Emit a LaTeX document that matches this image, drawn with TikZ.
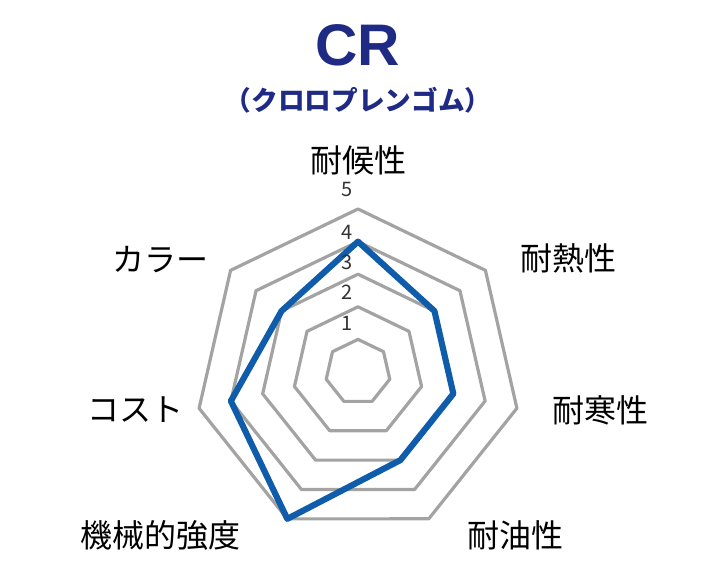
\documentclass[tikz,border=0pt]{standalone}
\usepackage{fontspec}
\setmainfont{Noto Sans CJK JP}
\newfontfamily\titlefont{Liberation Sans}
\usetikzlibrary{calc}
\definecolor{titleblue}{HTML}{1E2A84}
\definecolor{lineblue}{HTML}{0F5DAA}
\definecolor{ringgray}{HTML}{A3A3A3}
\tikzset{
  ring/.style={draw=ringgray, line width=2.4pt, line join=round},
  dataline/.style={draw=lineblue, line width=4.6pt, line join=round},
  axislabel/.style={font=\fontsize{24}{26}\selectfont, inner sep=0pt},
  ticklabel/.style={font=\fontsize{15}{16}\selectfont, text=black!80, inner sep=0pt}
}
\begin{document}
\begin{tikzpicture}[x=0.75pt, y=0.75pt]
				\useasboundingbox (0,0) rectangle (720,575);
				\coordinate (c) at (358,203);
				
				% rings
				\foreach \k in {1,...,5}{
					\draw[ring] ($(c)+(90:32.6*\k)$) \foreach \i in {1,...,6}{ -- ($(c)+(90+51.43*\i:32.6*\k)$) } -- cycle;
				}
				
				% data
				\draw[dataline] ($(c)+(90:130.4)$) -- ($(c)+(38.57:97.8)$) -- ($(c)+(-12.86:97.8)$)
					-- ($(c)+(-64.29:97.8)$) -- ($(c)+(-115.71:163)$) -- ($(c)+(-167.14:130.4)$)
					-- ($(c)+(141.43:97.8)$) -- cycle;
				
				% tick labels
				\node[ticklabel] (t5) at (347,385) {5};
				\node[ticklabel] (t4) at (347,343) {4};
				\node[ticklabel] (t3) at (347,313) {3};
				\node[ticklabel] (t2) at (347,283) {2};
				\node[ticklabel] (t1) at (347,252) {1};
				
				% title
				\node[font=\titlefont\bfseries\fontsize{44}{46}\selectfont, text=titleblue] (title) at (358,530) {CR};
				\node[font=\fontsize{20}{22}\selectfont\bfseries, text=titleblue] (subtitle) at (358,475) {（クロロプレンゴム）};
				
				% axis labels
				\node[axislabel] (weather) at (358,415) {耐候性};
				\node[axislabel] (heat) at (568,317) {耐熱性};
				\node[axislabel] (cold) at (600,165) {耐寒性};
				\node[axislabel] (oil) at (515,40) {耐油性};
				\node[axislabel] (strength) at (160,40) {機械的強度};
				\node[axislabel] (cost) at (135,165) {コスト};
				\node[axislabel] (color) at (160,315) {カラー};
\end{tikzpicture}
\end{document}
